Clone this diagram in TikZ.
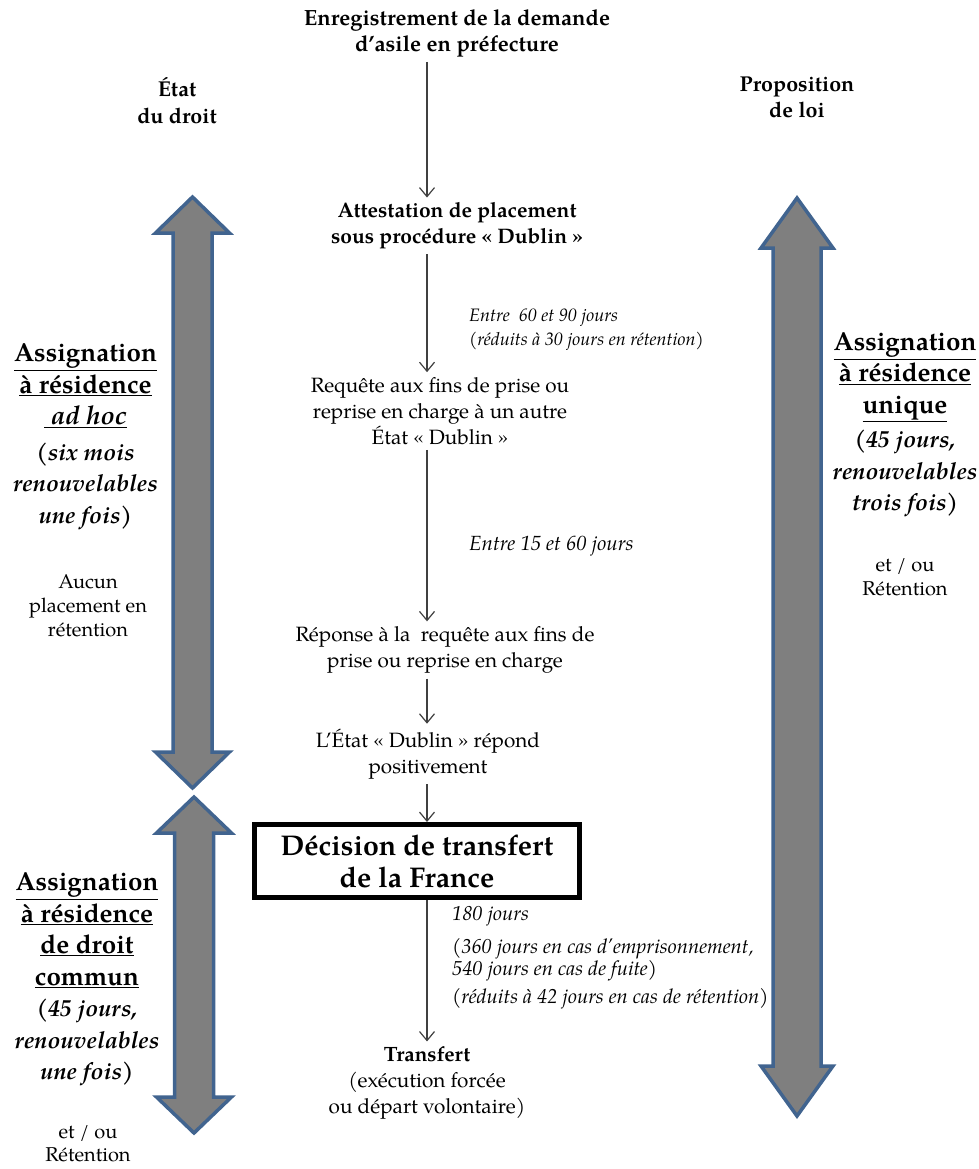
\documentclass[tikz,border=0pt]{standalone}
\usepackage{fontspec}
\setmainfont{texgyrepagella}[Extension=.otf,
  UprightFont=*-regular, BoldFont=*-bold,
  ItalicFont=*-italic, BoldItalicFont=*-bolditalic]
\usetikzlibrary{arrows.meta}
\definecolor{bordfleche}{HTML}{41648F}
\definecolor{grisfleche}{HTML}{7F7F7F}

% grosse fleche double : x, haut, bas, demi-tige, demi-tete, longueur tete
\newcommand{\grossefleche}[6]{%
  \draw[BigArrow] (#1,#2) -- (#1+#5,#2+#6) -- (#1+#4,#2+#6) -- (#1+#4,#3-#6)
    -- (#1+#5,#3-#6) -- (#1,#3) -- (#1-#5,#3-#6) -- (#1-#4,#3-#6)
    -- (#1-#4,#2+#6) -- (#1-#5,#2+#6) -- cycle;}

\begin{document}
\begin{tikzpicture}[x=1pt,y=-1pt]
  \tikzstyle{BigArrow}=[fill=grisfleche,draw=bordfleche,line width=3.5pt,line join=miter]
  \tikzstyle{Etape}=[font=\fontsize{20.7}{26}\selectfont,align=center,inner sep=5pt]
  \tikzstyle{EtapeGras}=[Etape,font=\fontsize{21}{26}\selectfont\bfseries]
  \tikzstyle{Delai}=[font=\fontsize{18}{24}\selectfont\itshape,align=left,anchor=west,inner sep=0pt]
  \tikzstyle{Regime}=[font=\fontsize{26}{31.5}\selectfont\bfseries,align=center,inner sep=0pt]
  \tikzstyle{Note}=[font=\fontsize{20}{24}\selectfont,align=center,inner sep=0pt]
  \tikzstyle{Flux}=[draw=black!75,line width=1.2pt,-{Straight Barb[length=9pt,width=15pt]}]
  \newcommand{\ital}[1]{{\fontsize{23.5}{31.5}\selectfont\textit{#1}}}
  \useasboundingbox (0,0) rectangle (978,1169);
  \coordinate (axe) at (427,0);

  % grosses fleches
  \grossefleche{192.5}{197}{788}{19.5}{37}{36}
  \grossefleche{194}{797}{1133}{19.5}{37.5}{36}
  \grossefleche{797}{198}{1116}{24}{36}{50}

  % en-tetes
  \node[EtapeGras,font=\fontsize{22}{26}\selectfont\bfseries] (enreg) at (457,33) {Enregistrement de la demande\\d’asile en préfecture};
  \node[EtapeGras,font=\fontsize{21.5}{27}\selectfont\bfseries] (etat) at (177,101) {État\\du droit};
  \node[EtapeGras,font=\fontsize{21.5}{26}\selectfont\bfseries] (prop) at (797,97) {Proposition\\de loi};

  % etapes de la procedure
  \node[EtapeGras] (attest) at (457,226) {Attestation de placement\\sous procédure «~Dublin~»};
  \node[Etape] (requete) at (440,411) {Requête aux fins de prise ou\\reprise en charge à un autre\\État «~Dublin~»};
  \node[Etape] (reponse) at (445,650) {Réponse à la~ requête aux fins de\\prise ou reprise en charge};
  \node[Etape] (positif) at (428,754) {L’État «~Dublin~» répond\\positivement};
  \node[draw,line width=5pt,minimum width=325pt,minimum height=73pt,inner sep=0pt,
        font=\fontsize{28.5}{32}\selectfont\bfseries,align=center] (decision) at (417,861)
        {Décision de transfert\\de la France};
  \node[Etape] (transfert) at (427,1083) {\textbf{Transfert}\\(exécution forcée\\ou départ volontaire)};

  % delais
  \node[Delai] (delai1) at (469,330) {Entre~ 60 et 90 jours\\(réduits à 30 jours en rétention)};
  \node[Delai,font=\fontsize{20.5}{24}\selectfont\itshape] (delai2) at (469,546) {Entre 15 et 60 jours};
  \node[Delai,font=\fontsize{20.2}{22}\selectfont\itshape] (delai3) at (452,958)
        {180 jours\\[11pt](360 jours en cas d’emprisonnement,\\540 jours en cas de fuite)\\[6pt](réduits à 42 jours en cas de rétention)};

  % regimes
  \node[Regime] (adhoc) at (85.5,437) {\underline{Assignation}\\\underline{à résidence}\\\underline{\textit{~ad hoc}}\\[4pt]
        \ital{(six mois}\\\ital{renouvelables}\\\ital{une fois)}};
  \node[Note] (aucun) at (88,606) {Aucun\\placement en\\rétention};
  \node[Regime] (commun) at (87,979.5) {\underline{Assignation}\\\underline{à résidence}\\\underline{de droit}\\\underline{commun}\\
        \ital{(45 jours,}\\\ital{renouvelables}\\\ital{une fois)}};
  \node[Note,font=\fontsize{20}{23}\selectfont] (etou1) at (88,1144) {et / ou\\Rétention};
  \node[Regime] (unique) at (905,425) {\underline{Assignation}\\\underline{à résidence}\\\underline{unique}\\[3pt]
        \ital{(45 jours,}\\\ital{renouvelables}\\\ital{trois fois)}};
  \node[Note] (etou2) at (905,577) {et / ou\\Rétention};

  % fleches
  \draw[Flux] (enreg.south -| axe) -- (attest.north -| axe);
  \draw[Flux] (attest.south -| axe) -- (requete.north -| axe);
  \draw[Flux] (requete.south -| axe) -- (reponse.north -| axe);
  \draw[Flux] (reponse.south -| axe) -- (positif.north -| axe);
  \draw[Flux] (positif.south -| axe) -- (decision.north -| axe);
  \draw[Flux] (decision.south -| axe) -- (transfert.north -| axe);
\end{tikzpicture}
\end{document}
